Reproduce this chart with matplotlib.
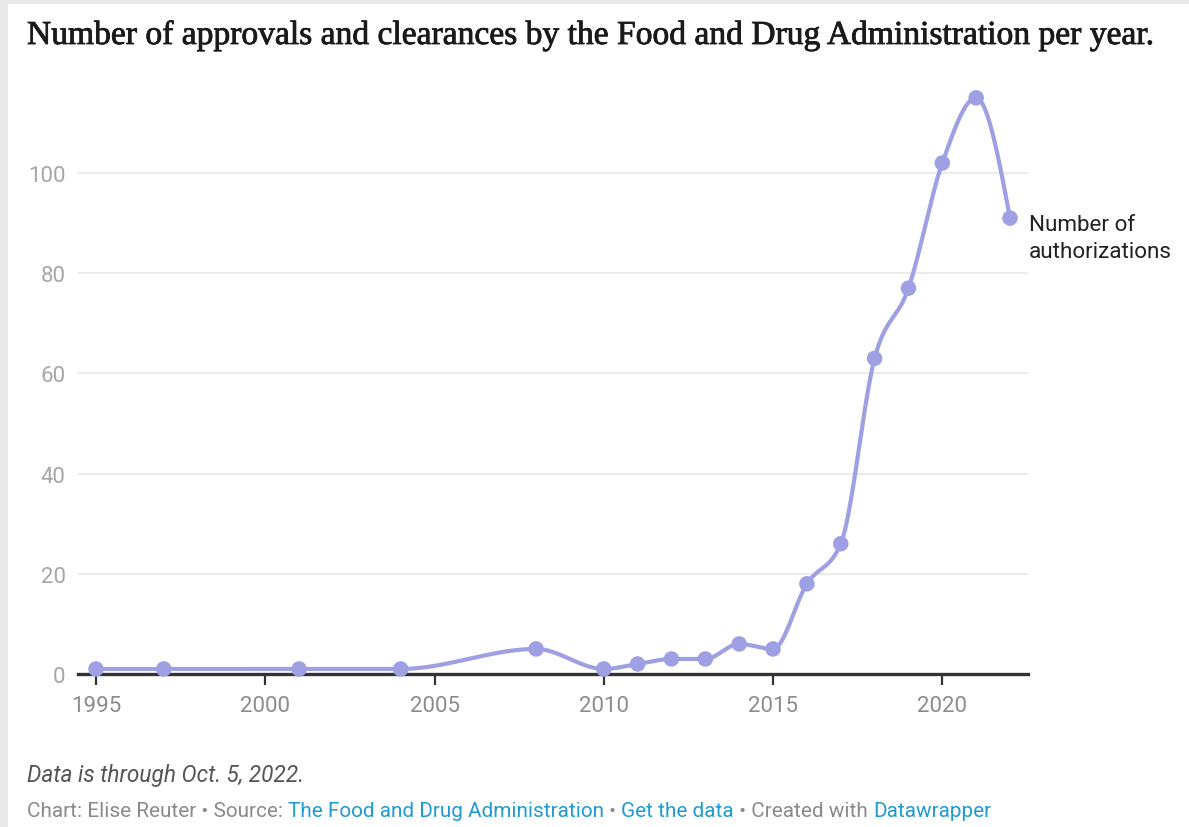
import numpy as np
import matplotlib
matplotlib.use("Agg")
import matplotlib.pyplot as plt
import matplotlib.patheffects as pe
from matplotlib.patches import Rectangle

# ---- data ----
years = [1995, 1997, 2001, 2004, 2008, 2010, 2011, 2012, 2013, 2014, 2015,
         2016, 2017, 2018, 2019, 2020, 2021, 2022]
authorizations = [1, 1, 1, 1, 5, 1, 2, 3, 3, 6, 5, 18, 26, 63, 77, 102, 115, 91]
y_ticks = [0, 20, 40, 60, 80, 100]
x_ticks = [1995, 2000, 2005, 2010, 2015, 2020]
label_lines = ["Number of", "authorizations"]
title = "Number of approvals and clearances by the Food and Drug Administration per year."
note = "Data is through Oct. 5, 2022."
credit_parts = ["Chart: Elise Reuter • Source: ", "The Food and Drug Administration",
                " • ", "Get the data", " • Created with ", "Datawrapper"]
credit_is_link = [False, True, False, True, False, True]

LINE = "#9f9fe3"
W, H = 1189, 828


def monotone_x(x, y, n=40):
    x = np.asarray(x, float)
    y = np.asarray(y, float)
    h = np.diff(x)
    s = np.diff(y) / h
    m = np.zeros_like(x)
    for i in range(1, len(x) - 1):
        h0, h1, s0, s1 = h[i - 1], h[i], s[i - 1], s[i]
        p = (s0 * h1 + s1 * h0) / (h0 + h1)
        m[i] = (np.sign(s0) + np.sign(s1)) * min(abs(s0), abs(s1), 0.5 * abs(p))
    m[0] = (3 * s[0] - m[1]) / 2
    m[-1] = (3 * s[-1] - m[-2]) / 2
    xs, ys = [], []
    for i in range(len(x) - 1):
        t = np.linspace(0, 1, n)
        h00 = 2 * t**3 - 3 * t**2 + 1
        h10 = t**3 - 2 * t**2 + t
        h01 = -2 * t**3 + 3 * t**2
        h11 = t**3 - t**2
        xs.append(x[i] + t * h[i])
        ys.append(h00 * y[i] + h10 * h[i] * m[i] + h01 * y[i + 1] + h11 * h[i] * m[i + 1])
    return np.concatenate(xs), np.concatenate(ys)


fig = plt.figure(figsize=(W / 100, H / 100), dpi=100)
fig.patch.set_facecolor("#e9e9e9")
fig.add_artist(Rectangle((8 / W, 0), 1 - 8 / W, 1 - 5 / H, transform=fig.transFigure,
                         facecolor="white", edgecolor="none", zorder=0))

ax_left, ax_right = 78, 1028
ax_top, ax_bottom = 99, 675
ax = fig.add_axes([ax_left / W, 1 - ax_bottom / H, (ax_right - ax_left) / W,
                   (ax_bottom - ax_top) / H])
ax.set_facecolor("none")
px_per_year = (1010 - 96) / 27
ax.set_xlim(1995 - (96 - ax_left) / px_per_year, 1995 + (ax_right - 96) / px_per_year)
ax.set_ylim(0, (ax_bottom - ax_top) / ((675 - 174) / 100))

for sp in ax.spines.values():
    sp.set_visible(False)

for v in y_ticks[1:]:
    ax.axhline(v, color="#e6e6e6", lw=1.1, zorder=1)
ax.axhline(0, color="#333333", lw=2.4, zorder=2, clip_on=False)

xs, ys = monotone_x(years, authorizations)
ax.plot(xs, ys, color=LINE, lw=3, zorder=3, clip_on=False, solid_capstyle="round")
ax.scatter(years, authorizations, s=125, color=LINE, zorder=4, clip_on=False,
           edgecolors="none")

ax.set_yticks(y_ticks)
ax.set_yticklabels([str(v) for v in y_ticks])
ax.set_xticks(x_ticks)
ax.set_xticklabels([str(v) for v in x_ticks])
ax.tick_params(axis="y", length=0, pad=9, labelsize=16, labelcolor="#a6a6a6")
ax.tick_params(axis="x", length=8, width=1.6, color="#333333", pad=7,
               labelsize=16, labelcolor="#8c8c8c", direction="out")
for lab in ax.get_xticklabels() + ax.get_yticklabels():
    lab.set_fontfamily("Roboto")

for i, line in enumerate(label_lines):
    ax.annotate(line, xy=(years[-1], authorizations[-1]),
                xytext=(19 * 0.72, (-6 - 27 * i) * 0.72),
                textcoords="offset points", ha="left", va="center", fontsize=16.2,
                family="Roboto", color="#222222", annotation_clip=False)

# title, fitted to its width in the reference
t = fig.text(27 / W, 1 - 45 / H, title, family="Liberation Serif", fontsize=22,
             color="#1a1a1a", ha="left", va="baseline",
             path_effects=[pe.withStroke(linewidth=0.6, foreground="#1a1a1a")])
fig.canvas.draw()
wpx = t.get_window_extent().width
t.set_fontsize(22 * 1125 / wpx)

# footer
fig.text(27 / W, 1 - 776 / H, note, family="Roboto", style="italic", fontsize=16.3,
         color="#555555", ha="left", va="center")

cur = fig.text(27 / W, 1 - 812 / H, credit_parts[0], family="Roboto", fontsize=14.95,
               color="#8a8a8a", ha="left", va="center")
for txt, link in zip(credit_parts[1:], credit_is_link[1:]):
    cur = ax.annotate(txt, xy=(1, 0.5), xycoords=cur, xytext=(0, 0),
                      textcoords="offset points", ha="left", va="center",
                      family="Roboto", fontsize=14.95,
                      color="#1f9bd1" if link else "#8a8a8a", annotation_clip=False)

fig.savefig("out.png", dpi=100, facecolor=fig.get_facecolor())
